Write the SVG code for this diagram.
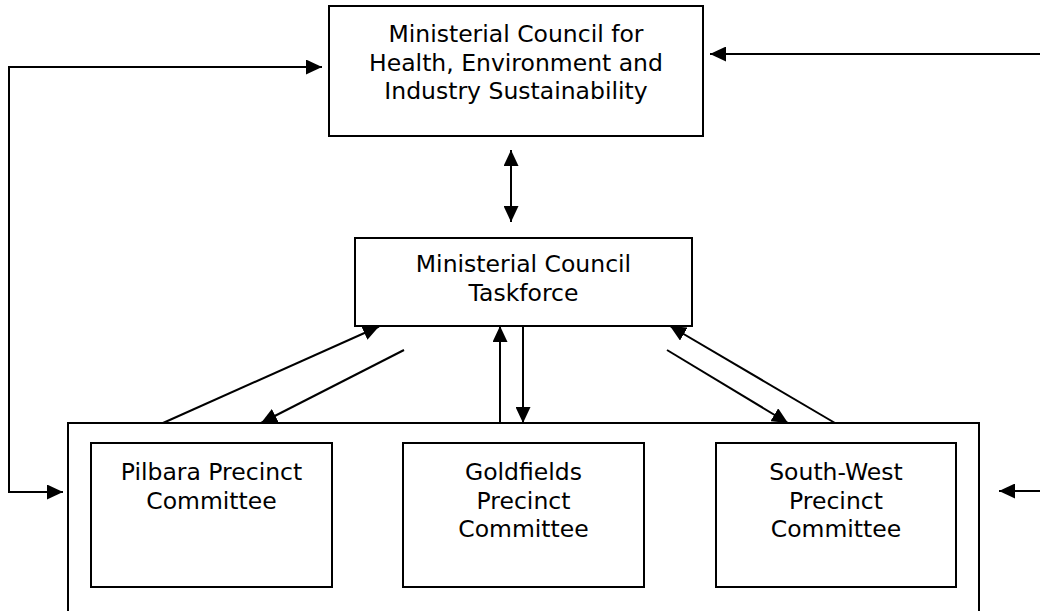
<svg xmlns="http://www.w3.org/2000/svg" width="1040" height="611" viewBox="0 0 1040 611">
  <style>
    .box { fill: #ffffff; stroke: #000000; stroke-width: 2; }
    .ln { fill: none; stroke: #000000; stroke-width: 2; }
    .arr { marker-end: url(#ah); }
    .arr2 { marker-start: url(#ah); marker-end: url(#ah); }
    text { font-family: "DejaVu Sans", Verdana, sans-serif; font-size: 23.5px; fill: #000000; text-anchor: middle; }
  </style>
  <defs>
    <marker id="ah" markerUnits="userSpaceOnUse" markerWidth="17" markerHeight="15" refX="16" refY="7.5" orient="auto-start-reverse" viewBox="0 0 17 15">
      <path d="M0,0 L16,7.5 L0,15 z" fill="#000000"/>
    </marker>
  </defs>
  <rect width="1040" height="611" fill="#ffffff"/>

  <g id="connectors">
    <path class="ln arr2" d="M322,67 H9 V492 H63"/>
    <line class="ln arr" x1="1040" y1="54" x2="710" y2="54"/>
    <line class="ln arr" x1="1040" y1="491" x2="999" y2="491"/>
    <line class="ln arr2" x1="511" y1="150" x2="511" y2="222"/>
    <line class="ln arr" x1="163" y1="423" x2="379" y2="326.5"/>
    <line class="ln arr" x1="404" y1="350" x2="261" y2="423"/>
    <line class="ln arr" x1="500" y1="423" x2="500" y2="326"/>
    <line class="ln arr" x1="523" y1="326" x2="523" y2="423"/>
    <line class="ln arr" x1="835" y1="423" x2="670" y2="326"/>
    <line class="ln arr" x1="667" y1="350" x2="788" y2="423"/>
    <line class="ln arr2" x1="343" y1="510" x2="391" y2="510"/>
    <line class="ln arr2" x1="655" y1="510" x2="702" y2="510"/>
  </g>

  <g id="ministerial-council">
    <rect class="box" x="329" y="6" width="374" height="130"/>
    <text x="516" y="42">Ministerial Council for</text>
    <text x="516" y="70.5">Health, Environment and</text>
    <text x="516" y="99">Industry Sustainability</text>
  </g>

  <g id="taskforce">
    <rect class="box" x="355" y="238" width="337" height="88"/>
    <text x="523.5" y="272">Ministerial Council</text>
    <text x="523.5" y="301">Taskforce</text>
  </g>

  <g id="precinct-group">
    <rect class="box" x="68" y="423" width="911" height="200"/>
  </g>

  <g id="pilbara">
    <rect class="box" x="91" y="443" width="241" height="144"/>
    <text x="211.5" y="480">Pilbara Precinct</text>
    <text x="211.5" y="509">Committee</text>
  </g>

  <g id="goldfields">
    <rect class="box" x="403" y="443" width="241" height="144"/>
    <text x="523.5" y="480">Goldfields</text>
    <text x="523.5" y="509">Precinct</text>
    <text x="523.5" y="537">Committee</text>
  </g>

  <g id="south-west">
    <rect class="box" x="716" y="443" width="240" height="144"/>
    <text x="836" y="480">South-West</text>
    <text x="836" y="509">Precinct</text>
    <text x="836" y="537">Committee</text>
  </g>
</svg>
